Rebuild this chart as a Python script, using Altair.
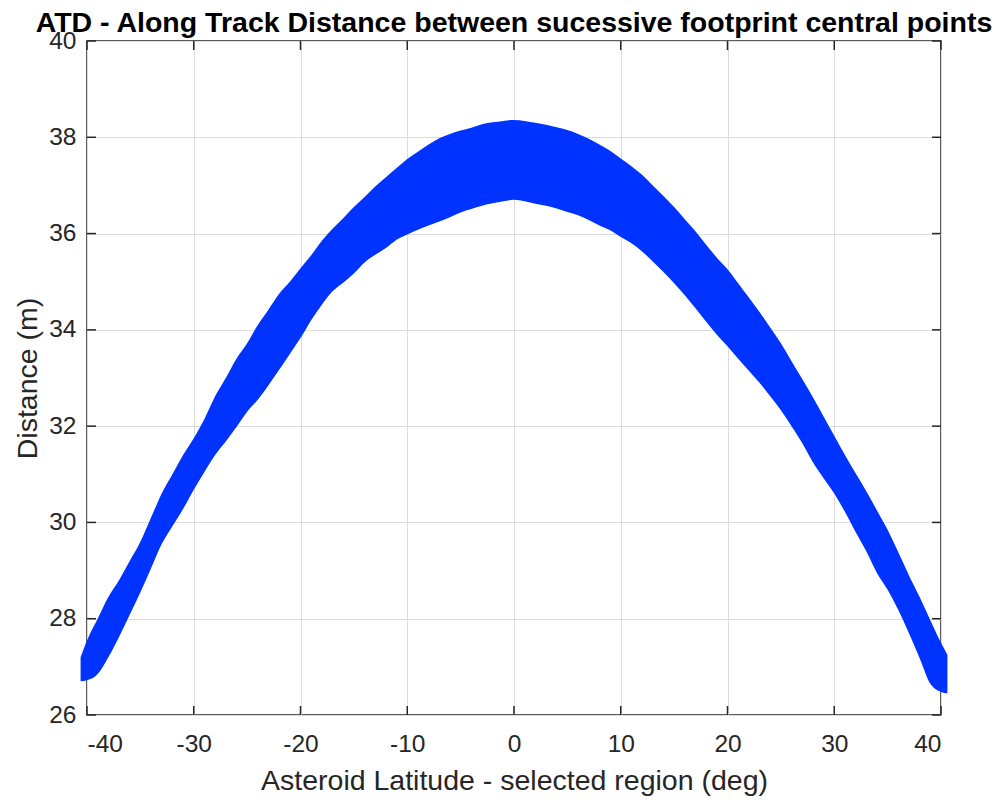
import altair as alt
import pandas as pd

TITLE = "ATD - Along Track Distance between sucessive footprint central points"

# Latitude grid (deg) and the upper / lower edges of the marker band (m)
lat = [-40.6, -40, -39, -38, -37, -36, -35, -34, -33, -32, -31, -30, -29, -28, -27, -26, -25,
       -24, -23, -22, -21, -20, -19, -18, -17, -16, -15, -14, -13, -12, -11, -10, -9, -8, -7,
       -6, -5, -4, -3, -2, -1, 0, 1, 2, 3, 4, 5, 6, 7, 8, 9, 10, 11, 12, 13, 14, 15, 16, 17,
       18, 19, 20, 21, 22, 23, 24, 25, 26, 27, 28, 29, 30, 31, 32, 33, 34, 35, 36, 37, 38,
       39, 40, 40.6]
top = [27.2, 27.55, 28.0, 28.45, 28.8, 29.2, 29.6, 30.1, 30.6, 31.0, 31.4, 31.75, 32.15, 32.62,
       33.0, 33.4, 33.72, 34.1, 34.42, 34.75, 35.0, 35.28, 35.55, 35.85, 36.1, 36.32, 36.55, 36.76,
       36.98, 37.17, 37.36, 37.55, 37.7, 37.85, 37.98, 38.07, 38.14, 38.2, 38.27, 38.31, 38.34,
       38.36, 38.34, 38.3, 38.26, 38.21, 38.15, 38.07, 37.97, 37.85, 37.72, 37.56, 37.4, 37.22,
       37.0, 36.78, 36.55, 36.3, 36.05, 35.77, 35.5, 35.26, 34.97, 34.67, 34.37, 34.05, 33.72,
       33.35, 32.98, 32.6, 32.2, 31.8, 31.4, 31.02, 30.65, 30.25, 29.85, 29.38, 28.9, 28.45,
       27.97, 27.5, 27.25]
bottom = [26.7, 26.72, 26.85, 27.2, 27.62, 28.08, 28.55, 29.05, 29.55, 29.92, 30.28, 30.68, 31.05,
          31.4, 31.68, 31.98, 32.3, 32.55, 32.85, 33.17, 33.5, 33.83, 34.2, 34.52, 34.8, 34.98,
          35.17, 35.4, 35.56, 35.7, 35.87, 35.98, 36.08, 36.17, 36.25, 36.34, 36.44, 36.51, 36.58,
          36.63, 36.67, 36.7, 36.67, 36.62, 36.58, 36.52, 36.45, 36.38, 36.28, 36.17, 36.07,
          35.93, 35.8, 35.63, 35.42, 35.2, 34.97, 34.72, 34.45, 34.17, 33.9, 33.66, 33.4, 33.15,
          32.9, 32.62, 32.33, 32.0, 31.65, 31.25, 30.92, 30.6, 30.22, 29.8, 29.4, 28.95, 28.6,
          28.18, 27.7, 27.18, 26.65, 26.48, 26.45]

x_ticks = [-40, -30, -20, -10, 0, 10, 20, 30, 40]
y_ticks = [26, 28, 30, 32, 34, 36, 38, 40]

W, H = 854, 674
FONT = "Liberation Sans"
AX = "#262626"

df = pd.DataFrame({"lat": lat, "top": top, "bottom": bottom})
xt = pd.DataFrame({"v": x_ticks})
yt = pd.DataFrame({"v": y_ticks})
tt = pd.DataFrame({"t": [TITLE]})

xs = alt.Scale(domain=[-40, 40], nice=False, zero=False)
ys = alt.Scale(domain=[26, 40], nice=False, zero=False)

band = alt.Chart(df).mark_area(color="#0033ff", opacity=1, clip=False,
                               interpolate="monotone").encode(
    x=alt.X("lat:Q", scale=xs, axis=alt.Axis(
        values=x_ticks, title="Asteroid Latitude - selected region (deg)",
        labelExpr="'' + datum.value",
        titleX=W / 2, titleY=65, titleBaseline="middle", titleAlign="center",
        labelPadding=17)),
    y=alt.Y("top:Q", scale=ys, axis=alt.Axis(
        values=y_ticks, title="Distance (m)",
        labelExpr="'' + datum.value",
        titleX=-60, titleY=H / 2, titleBaseline="middle", titleAlign="center", titleAngle=-90,
        labelPadding=11)),
    y2="bottom:Q",
)

tick_len = 9
left_t = alt.Chart(yt).mark_rule(color=AX, strokeWidth=1.5).encode(
    y=alt.Y("v:Q", scale=ys), x=alt.value(0), x2=alt.value(tick_len))
right_t = alt.Chart(yt).mark_rule(color=AX, strokeWidth=1.5).encode(
    y=alt.Y("v:Q", scale=ys), x=alt.value(W - tick_len), x2=alt.value(W))
bot_t = alt.Chart(xt).mark_rule(color=AX, strokeWidth=1.5).encode(
    x=alt.X("v:Q", scale=xs), y=alt.value(H - tick_len), y2=alt.value(H))
top_t = alt.Chart(xt).mark_rule(color=AX, strokeWidth=1.5).encode(
    x=alt.X("v:Q", scale=xs), y=alt.value(0), y2=alt.value(tick_len))

title = alt.Chart(tt).mark_text(
    font=FONT, fontSize=28.5, fontWeight="bold", color="black",
    align="center", baseline="alphabetic", clip=False,
).encode(text="t:N", x=alt.value(W / 2), y=alt.value(-9))

chart = alt.layer(band, left_t, right_t, bot_t, top_t, title).properties(
    width=W, height=H,
    autosize=alt.AutoSizeParams(type="none"),
    padding={"left": 87, "top": 41, "right": 60, "bottom": 88},
).configure_axis(
    grid=True, gridColor="#dcdcdc", gridWidth=1,
    ticks=False, domain=False,
    labelFont=FONT, labelFontSize=24.5, labelColor=AX,
    titleFont=FONT, titleFontSize=28.5, titleFontWeight="normal", titleColor=AX,
).configure_view(stroke=AX, strokeWidth=1.5)

chart.save("out.html", embed_options={"renderer": "svg", "actions": False})
